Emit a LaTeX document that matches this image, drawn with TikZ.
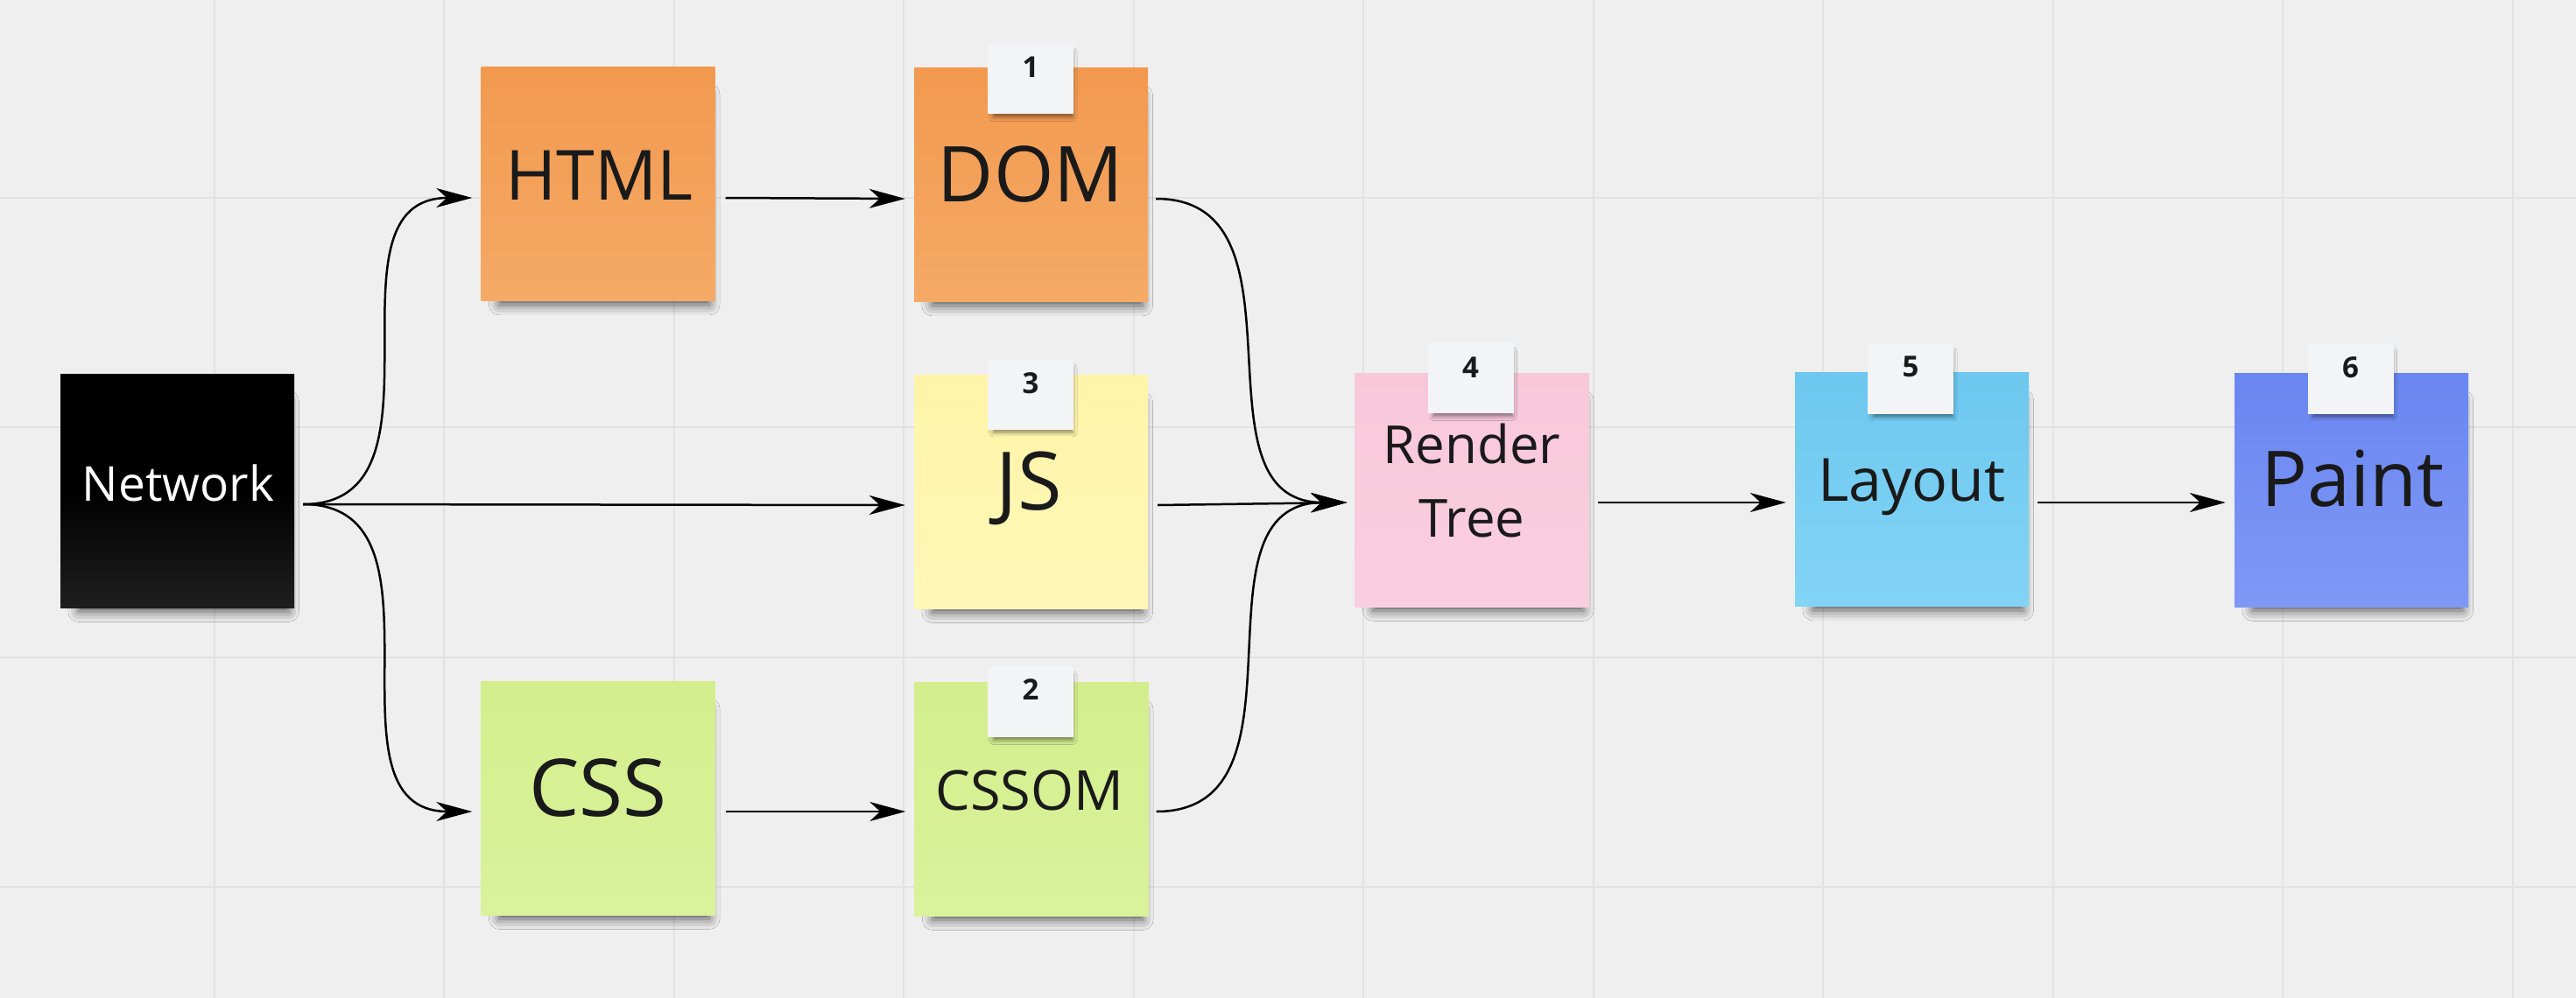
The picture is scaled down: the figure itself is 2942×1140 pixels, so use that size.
\documentclass[tikz,border=0pt]{standalone}
\usepackage{fontspec}
\setmainfont{Open Sans}
\usetikzlibrary{arrows.meta,calc,shadows.blur}
\definecolor{bg}{HTML}{EFEFEF}
\definecolor{gridc}{HTML}{E2E2E2}
\definecolor{ink}{HTML}{1A1A1A}
\definecolor{orT}{HTML}{F2994F}\definecolor{orB}{HTML}{F5AA66}
\definecolor{yeT}{HTML}{FFF4A8}\definecolor{yeB}{HTML}{FFF7B8}
\definecolor{grT}{HTML}{D3EE8C}\definecolor{grB}{HTML}{DAF29C}
\definecolor{piT}{HTML}{F8C8D9}\definecolor{piB}{HTML}{F9CFDF}
\definecolor{lbT}{HTML}{6DC7EE}\definecolor{lbB}{HTML}{82D4F6}
\definecolor{blT}{HTML}{6A86F1}\definecolor{blB}{HTML}{7F98F5}
\definecolor{tagc}{HTML}{F3F4F6}
\begin{document}
\begin{tikzpicture}[x=1pt,y=-1pt,
  note/.style={rectangle, inner sep=0pt, minimum width=267pt, minimum height=267pt, draw=none,
    blur shadow={shadow xshift=8pt, shadow yshift=-20pt, shadow opacity=65, shadow blur radius=13pt, shadow scale=0.9}},
  tagbox/.style={rectangle, inner sep=0pt, minimum width=98pt, minimum height=80pt, fill=tagc, draw=none,
    blur shadow={shadow xshift=3pt, shadow yshift=-7pt, shadow opacity=45, shadow blur radius=5pt, shadow scale=0.93}},
  tagnum/.style={inner sep=0pt, text=ink, font=\bfseries\fontsize{33pt}{40pt}\selectfont},
  lbl/.style={anchor=base, inner sep=0pt, text=ink},
  gridline/.style={draw=gridc, line width=2pt},
  arr/.style={draw=black, line width=2.5pt, -{Stealth[length=41pt,width=22pt,inset=12pt]}},
  curvy/.style={arr, out=0, in=180, looseness=1.15}
]
\useasboundingbox (0,0) rectangle (2942,1140);
\fill[bg] (0,0) rectangle (2942,1140);
\foreach \i in {0,...,10} \draw[gridline] ({244.5+262.5*\i},0) -- ++(0,1140);
\foreach \j in {0,...,3} \draw[gridline] (0,{225.5+262.5*\j}) -- ++(2942,0);

% notes
\node[note, top color=black, bottom color=black!88!white, middle color=black] (net) at (202.5,560.5) {};
\node[note, top color=orT, bottom color=orB] (html) at (683,210) {};
\node[note, top color=orT, bottom color=orB] (dom) at (1177.5,211) {};
\node[note, top color=yeT, bottom color=yeB] (js) at (1177.5,561.5) {};
\node[note, top color=grT, bottom color=grB] (css) at (683,911.5) {};
\node[note, top color=grT, bottom color=grB] (cssom) at (1178,912.5) {};
\node[note, top color=piT, bottom color=piB] (rt) at (1681,559.5) {};
\node[note, top color=lbT, bottom color=lbB] (lay) at (2183.5,559) {};
\node[note, top color=blT, bottom color=blB] (paint) at (2685.5,559.5) {};

% tags
\node[tagbox] (tag1) at (1177,90) {};
\node[tagnum] (tag1n) at (1177,77) {1};
\node[tagbox] (tag3) at (1177,450.5) {};
\node[tagnum] (tag3n) at (1177,438) {3};
\node[tagbox] (tag2) at (1177,802) {};
\node[tagnum] (tag2n) at (1177,788) {2};
\node[tagbox] (tag4) at (1679.5,432) {};
\node[tagnum] (tag4n) at (1679.5,420) {4};
\node[tagbox] (tag5) at (2182,432.5) {};
\node[tagnum] (tag5n) at (2182,419) {5};
\node[tagbox] (tag6) at (2684.5,432.5) {};
\node[tagnum] (tag6n) at (2684.5,420) {6};

% labels
\node[lbl, text=white, font=\fontsize{55pt}{66pt}\selectfont] (netT) at (203.5,572) {Network};
\node[lbl, font=\fontsize{79pt}{95pt}\selectfont] (htmlT) at (684.5,228) {HTML};
\node[lbl, font=\fontsize{88pt}{105pt}\selectfont] (domT) at (1177,230) {DOM};
\node[lbl, font=\fontsize{92pt}{110pt}\selectfont] (jsT) at (1175,582) {JS};
\node[lbl, font=\fontsize{91pt}{110pt}\selectfont] (cssT) at (683,932) {CSS};
\node[lbl, font=\fontsize{63pt}{76pt}\selectfont] (cssomT) at (1176,925) {CSSOM};
\node[lbl, font=\fontsize{60pt}{84pt}\selectfont] (rtT1) at (1681,529) {Render};
\node[lbl, font=\fontsize{60pt}{84pt}\selectfont] (rtT2) at (1681,613) {Tree};
\node[lbl, font=\fontsize{68pt}{82pt}\selectfont] (layT) at (2183.5,572) {Layout};
\node[lbl, font=\fontsize{88pt}{105pt}\selectfont] (paintT) at (2687,578) {Paint};

% connectors
\draw[curvy] ($(net.east)+(10,15.5)$) to ($(html.west)+(-10,16)$);
\draw[arr] ($(net.east)+(10,15.5)$) -- ($(js.west)+(-10,15.5)$);
\draw[curvy] ($(net.east)+(10,15.5)$) to ($(css.west)+(-10,15.5)$);
\draw[arr] ($(html.east)+(12,16)$) -- ($(dom.west)+(-10,16)$);
\draw[arr] ($(css.east)+(12,15.5)$) -- ($(cssom.west)+(-10,14.5)$);
\draw[curvy] ($(dom.east)+(9,16)$) to ($(rt.west)+(-9,14.5)$);
\draw[arr] ($(js.east)+(11,15.5)$) -- ($(rt.west)+(-9,14.5)$);
\draw[curvy] ($(cssom.east)+(9,14.5)$) to ($(rt.west)+(-9,14.5)$);
\draw[arr] ($(rt.east)+(10,14.5)$) -- ($(lay.west)+(-10,15)$);
\draw[arr] ($(lay.east)+(10,15)$) -- ($(paint.west)+(-10,14.5)$);
\end{tikzpicture}
\end{document}
